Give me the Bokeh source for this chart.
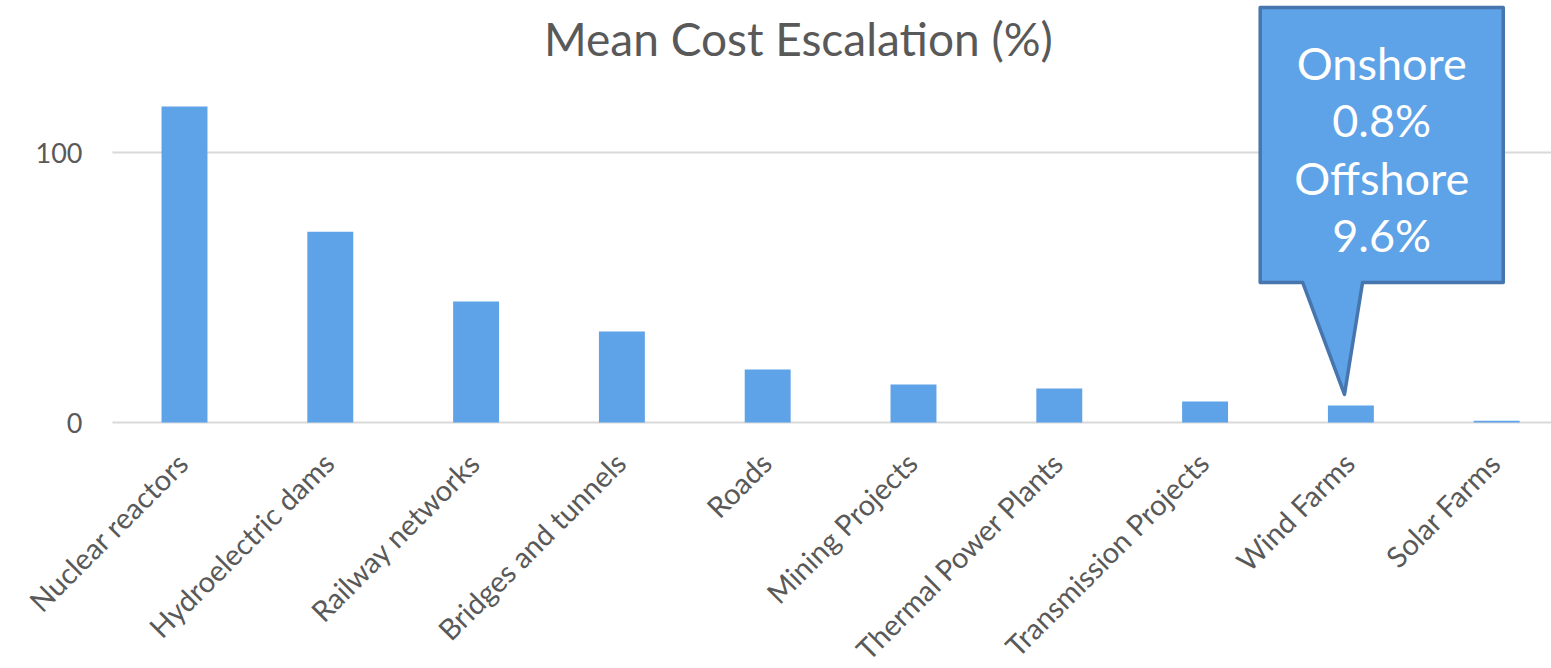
from bokeh.plotting import figure
from bokeh.models import Range1d, ColumnDataSource, LabelSet
from bokeh.core.properties import value
from bokeh.embed import file_html
from bokeh.resources import INLINE
import math

categories = ["Nuclear reactors", "Hydroelectric dams", "Railway networks",
              "Bridges and tunnels", "Roads", "Mining Projects",
              "Thermal Power Plants", "Transmission Projects", "Wind Farms",
              "Solar Farms"]
values = [117.0, 70.7, 44.8, 33.7, 19.6, 14.1, 12.6, 7.8, 6.3, 0.7]
y_ticks = [0, 100]
title_text = "Mean Cost Escalation (%)"
wind_split = {"Onshore": 0.8, "Offshore": 9.6}

FONT = "Lato"
TXT = "#595959"
BAR = "#5ea2e7"

xs = list(range(len(categories)))
src = ColumnDataSource(dict(x=xs, top=values, name=categories,
                            base=[0] * len(xs)))

# plotting area (data units) in which bars and gridlines live
X_LEFT, X_RIGHT = -0.494, 9.376

p = figure(width=1551, height=668, output_backend="svg", toolbar_location=None,
           x_range=Range1d(-1.262, X_RIGHT), y_range=Range1d(-91.1, 156.3),
           min_border_left=0, min_border_right=0, min_border_top=0,
           min_border_bottom=0)
p.outline_line_color = None
p.background_fill_color = "white"
p.border_fill_color = "white"
p.xaxis.visible = False
p.yaxis.visible = False
p.grid.visible = False

# horizontal gridlines at the value ticks
p.segment(x0=X_LEFT, x1=X_RIGHT, y0=y_ticks, y1=y_ticks,
          line_color="#d9d9d9", line_width=2)

# value tick labels
p.text(x=[X_LEFT] * len(y_ticks), y=y_ticks, text=[str(t) for t in y_ticks],
       x_offset=-30, text_font=value(FONT), text_font_size="27px",
       text_color=TXT, text_align="right", text_baseline="middle")

p.vbar(x="x", top="top", width=0.315, bottom=0, source=src,
       fill_color=BAR, line_color=None)

# category labels, rotated 45 degrees
cat_labels = LabelSet(x="x", y="base", text="name", source=src,
                      angle=math.pi / 4, text_align="right",
                      text_baseline="middle", x_offset=-2, y_offset=-35,
                      text_font=value(FONT), text_font_size="29px",
                      text_color=TXT)
p.add_layout(cat_labels)

# title
p.text(x=[4.211], y=[142.2], text=[title_text], text_font=value(FONT),
       text_font_size="46px", text_color=TXT, text_align="center",
       text_baseline="middle")

# callout for wind farms
wi = categories.index("Wind Farms")
wv = values[wi]
L, R = wi - 0.622, wi + 1.045
top, bot = 153.7, 51.85
pb1, pb2 = wi - 0.33, wi + 0.08
tipx, tipy = wi - 0.044, wv + 4.1
p.patch(x=[L, R, R, pb2, tipx, pb1, L],
        y=[top, top, bot, bot, tipy, bot, bot],
        fill_color=BAR, line_color="#4676ad", line_width=3.5, line_join="round")

lines = []
for k, v in wind_split.items():
    lines.append(k)
    lines.append(f"{v}%")
cx = (L + R) / 2
ys = [top - 20.4 - i * 21.3 for i in range(len(lines))]
p.text(x=[cx] * len(lines), y=ys, text=lines, text_font=value(FONT),
       text_font_size="45px", text_color="white", text_align="center",
       text_baseline="middle")

open("out.html", "w").write(file_html(p, INLINE))
